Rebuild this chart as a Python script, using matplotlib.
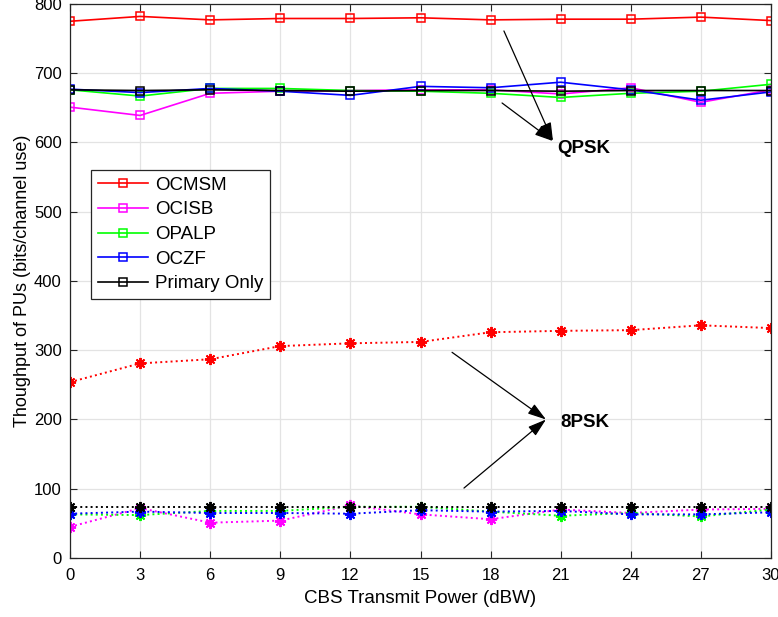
import matplotlib.pyplot as plt

plt.rcParams['font.family'] = ['Liberation Sans', 'DejaVu Sans']

power = [0, 3, 6, 9, 12, 15, 18, 21, 24, 27, 30]
labels = ['OCMSM', 'OCISB', 'OPALP', 'OCZF', 'Primary Only']
colors = ['#ff0000', '#ff00ff', '#00ff00', '#0000ff', '#000000']

# QPSK throughput
qpsk_ocmsm = [775, 782, 777, 779, 779, 780, 777, 778, 778, 781, 776]
qpsk_ocisb = [651, 639, 671, 674, 675, 676, 676, 670, 679, 658, 676]
qpsk_opalp = [676, 667, 678, 678, 675, 674, 671, 665, 671, 674, 684]
qpsk_oczf = [677, 672, 678, 674, 668, 681, 679, 687, 676, 661, 673]
qpsk_primary = [676, 675, 676, 675, 674, 675, 675, 674, 675, 675, 675]

# 8PSK throughput
psk8_ocmsm = [254, 281, 287, 306, 310, 312, 326, 328, 329, 336, 332]
psk8_ocisb = [45, 72, 51, 54, 76, 63, 56, 70, 65, 70, 71]
psk8_opalp = [63, 62, 68, 68, 74, 74, 67, 61, 65, 60, 70]
psk8_oczf = [64, 67, 65, 65, 64, 69, 67, 68, 63, 63, 66]
psk8_primary = [73, 73, 73, 73, 73, 73, 73, 73, 73, 73, 73]

qpsk = [qpsk_ocmsm, qpsk_ocisb, qpsk_opalp, qpsk_oczf, qpsk_primary]
psk8 = [psk8_ocmsm, psk8_ocisb, psk8_opalp, psk8_oczf, psk8_primary]

fig = plt.figure(figsize=(7.78, 6.17), dpi=100)
ax = fig.add_axes([0.090, 0.0956, 0.901, 0.898])

for ys, c, lab in zip(qpsk, colors, labels):
    ax.plot(power, ys, color=c, lw=1.2, marker='s', markersize=6,
            markerfacecolor='none', markeredgewidth=1.1, label=lab)
for ys, c in zip(psk8, colors):
    ax.plot(power, ys, color=c, lw=1.4, ls=':', marker=(8, 2, 0),
            markersize=8, markeredgewidth=1.4)

ax.set_xlim(0, 30)
ax.set_ylim(0, 800)
ax.set_xticks(power)
ax.set_yticks(range(0, 801, 100))
ax.grid(True, color='#e3e3e3', lw=0.9)
ax.set_axisbelow(True)
ax.tick_params(direction='in', top=True, right=True, labelsize=12,
               color='#262626', length=5)
ax.tick_params(axis='x', pad=7)
ax.tick_params(axis='y', pad=6)
for s in ax.spines.values():
    s.set_color('#262626')
    s.set_linewidth(0.9)

ax.set_xlabel('CBS Transmit Power (dBW)', fontsize=13.5, labelpad=5)
ax.set_ylabel('Thoughput of PUs (bits/channel use)', fontsize=13, labelpad=2)

leg = ax.legend(loc='upper left', bbox_to_anchor=(0.03, 0.70), fontsize=13.5,
                handlelength=2.7, labelspacing=0.4, borderaxespad=0,
                fancybox=False, edgecolor='#262626', framealpha=1,
                borderpad=0.35, handletextpad=0.35)
leg.get_frame().set_linewidth(0.9)

arrow = dict(arrowstyle='-|>,head_length=0.8,head_width=0.25', color='black',
             lw=0.9, mutation_scale=14, shrinkA=0, shrinkB=0)
ax.annotate('', xy=(20.67, 602), xytext=(18.57, 761), arrowprops=arrow)
ax.annotate('', xy=(20.67, 602), xytext=(18.49, 657), arrowprops=arrow)
ax.text(20.84, 592, 'QPSK', fontsize=13.5, fontweight='bold', va='center')

ax.annotate('', xy=(20.37, 200), xytext=(16.35, 297), arrowprops=arrow)
ax.annotate('', xy=(20.37, 200), xytext=(16.86, 101), arrowprops=arrow)
ax.text(20.97, 196, '8PSK', fontsize=13.5, fontweight='bold', va='center')

fig.savefig('out.png', dpi=100)
